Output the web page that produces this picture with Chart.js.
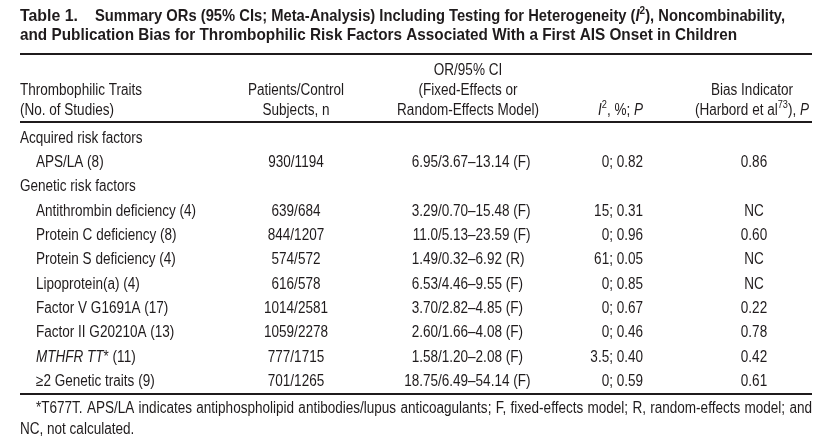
<!DOCTYPE html>
<html>
<head>
<meta charset="utf-8">
<script src="https://cdn.jsdelivr.net/npm/chart.js@4.4.1/dist/chart.umd.min.js"></script>
<style>
  html, body { margin: 0; padding: 0; background: #fff; }
  #table_chart { display: block; }
</style>
</head>
<body>
<canvas id="table_chart" width="827" height="443"></canvas>
<script>
// table text ( _x_ = italic, ^x^ = superscript )
const tableLabel = 'Table 1.';
const titleLines = [
  'Summary ORs (95% CIs; Meta-Analysis) Including Testing for Heterogeneity (_I_^2^), Noncombinability,',
  'and Publication Bias for Thrombophilic Risk Factors Associated With a First AIS Onset in Children'
];
const headers = [
  ['Thrombophilic Traits', '(No. of Studies)'],
  ['Patients/Control', 'Subjects, n'],
  ['OR/95% CI', '(Fixed-Effects or', 'Random-Effects Model)'],
  ['_I_^2^, %; _P_'],
  ['Bias Indicator', '(Harbord et al^73^), _P_']
];
const groups = ['Acquired risk factors', 'Genetic risk factors'];
const traitGroup = [0, 1, 1, 1, 1, 1, 1, 1, 1];
const traits = [
  'APS/LA (8)',
  'Antithrombin deficiency (4)',
  'Protein C deficiency (8)',
  'Protein S deficiency (4)',
  'Lipoprotein(a) (4)',
  'Factor V G1691A (17)',
  'Factor II G20210A (13)',
  '_MTHFR TT_* (11)',
  '\u22652 Genetic traits (9)'
];
const subjects = ['930/1194', '639/684', '844/1207', '574/572', '616/578', '1014/2581', '1059/2278', '777/1715', '701/1265'];
const orCI = [
  '6.95/3.67\u201313.14 (F)',
  '3.29/0.70\u201315.48 (F)',
  '11.0/5.13\u201323.59 (F)',
  '1.49/0.32\u20136.92 (R)',
  '6.53/4.46\u20139.55 (F)',
  '3.70/2.82\u20134.85 (F)',
  '2.60/1.66\u20134.08 (F)',
  '1.58/1.20\u20132.08 (F)',
  '18.75/6.49\u201354.14 (F)'
];
const heterogeneity = ['0; 0.82', '15; 0.31', '0; 0.96', '61; 0.05', '0; 0.85', '0; 0.67', '0; 0.46', '3.5; 0.40', '0; 0.59'];
const biasP = ['0.86', 'NC', '0.60', 'NC', 'NC', '0.22', '0.78', '0.42', '0.61'];
const footnote = [
  '*T677T. APS/LA indicates antiphospholipid antibodies/lupus anticoagulants; F, fixed-effects model; R, random-effects model; and',
  'NC, not calculated.'
];

// layout / style
const FAMILY = '"Liberation Sans", Arial, sans-serif';
const INK = '#1f1b1c';
const BODY = 16;
const TITLE = 16.5;
const LEFT = 20, RIGHT = 812;
const COLS = [
  { x: 36, align: 'left', head: 'left', hx: 20 },
  { x: 296, align: 'center', head: 'center', hx: 296 },
  { x: 438, align: 'slash', head: 'center', hx: 468 },
  { x: 643, align: 'right', head: 'right', hx: 643 },
  { x: 754, align: 'center', head: 'center', hx: 752 }
];
// title pieces: [text, x, baseline, width in the reference]
const TITLE_SPANS = [
  [tableLabel, LEFT, 21, 58],
  [titleLines[0], 95, 21, 690],
  [titleLines[1], LEFT, 39.5, 717]
];

// rows: group header followed by its traits
const rows = [];
groups.forEach((g, gi) => {
  rows.push({ label: g, group: true });
  traits.forEach((t, i) => {
    if (traitGroup[i] === gi) rows.push({ label: t, cells: [subjects[i], orCI[i], heterogeneity[i], biasP[i]] });
  });
});

// condensed face: Liberation Sans squeezed horizontally
let squeeze = { body: 1, title: 1 };

function parseRich(s) {
  return s.split(/(\^[^^]*\^|_[^_]*_)/).filter(Boolean).map((p) => {
    if (p[0] === '^') return { t: p.slice(1, -1), sup: true };
    if (p[0] === '_') return { t: p.slice(1, -1), it: true };
    return { t: p };
  });
}

function segFont(seg, size, bold) {
  return (seg.it ? 'italic ' : '') + (bold ? 'bold ' : '') + (seg.sup ? size * 0.68 : size) + 'px ' + FAMILY;
}

function richWidth(ctx, segs, size, bold, sx) {
  return segs.reduce((w, seg) => { ctx.font = segFont(seg, size, bold); return w + ctx.measureText(seg.t).width * sx; }, 0);
}

function put(ctx, s, x, y, sx) {
  ctx.save();
  ctx.translate(x, y);
  ctx.scale(sx, 1);
  ctx.fillText(s, 0, 0);
  ctx.restore();
}

function drawRich(ctx, text, x, y, align, size, bold) {
  const sx = bold ? squeeze.title : squeeze.body;
  const segs = parseRich(text);
  const w = richWidth(ctx, segs, size, bold, sx);
  let cx = x;
  if (align === 'center') cx = x - w / 2;
  else if (align === 'right') cx = x - w;
  else if (align === 'slash') { ctx.font = size + 'px ' + FAMILY; cx = x - ctx.measureText(text.split('/')[0]).width * sx; }
  ctx.textAlign = 'left';
  ctx.textBaseline = 'alphabetic';
  segs.forEach((seg) => {
    ctx.font = segFont(seg, size, bold);
    put(ctx, seg.t, cx, seg.sup ? y - size * 0.4 : y, sx);
    cx += ctx.measureText(seg.t).width * sx;
  });
}

function drawJustified(ctx, text, x0, x1, y, size) {
  const sx = squeeze.body;
  ctx.font = size + 'px ' + FAMILY;
  const words = text.split(' ');
  const total = words.reduce((s, w) => s + ctx.measureText(w).width * sx, 0);
  const gap = (x1 - x0 - total) / (words.length - 1);
  let cx = x0;
  words.forEach((w) => { put(ctx, w, cx, y, sx); cx += ctx.measureText(w).width * sx + gap; });
}

function rule(ctx, y, width) {
  ctx.beginPath();
  ctx.lineWidth = width;
  ctx.strokeStyle = INK;
  ctx.moveTo(LEFT, y);
  ctx.lineTo(RIGHT, y);
  ctx.stroke();
}

const tablePlugin = {
  id: 'tableText',
  afterDatasetsDraw(chart) {
    const ctx = chart.ctx;
    const area = chart.chartArea;
    ctx.save();
    ctx.fillStyle = INK;

    // fit the squeeze to the reference's text widths
    squeeze = { body: 1, title: 1 };
    squeeze.body = 122 / richWidth(ctx, parseRich(headers[0][0]), BODY, false, 1);

    // title, each piece fitted to its own width
    TITLE_SPANS.forEach(([text, x, y, w]) => {
      squeeze.title = 1;
      squeeze.title = w / richWidth(ctx, parseRich(text), TITLE, true, 1);
      drawRich(ctx, text, x, y, 'left', TITLE, true);
    });
    rule(ctx, 54, 2);

    // column headers, bottom aligned
    headers.forEach((lines, ci) => {
      lines.forEach((line, li) => {
        const y = area.top - 7.5 - (lines.length - 1 - li) * 20;
        drawRich(ctx, line, COLS[ci].hx, y, COLS[ci].head, BODY, false);
      });
    });
    rule(ctx, area.top, 2);

    // cells, positioned by the chart's own scales
    chart.data.datasets.forEach((ds, di) => {
      const meta = chart.getDatasetMeta(di);
      meta.data.forEach((pt, j) => {
        const raw = ds.data[j];
        drawRich(ctx, raw.text, pt.x, pt.y, raw.align, BODY, false);
      });
    });
    rule(ctx, area.bottom, 2);

    // footnote
    drawJustified(ctx, footnote[0], 36, RIGHT, 412.5, BODY);
    drawRich(ctx, footnote[1], LEFT, 433.5, 'left', BODY, false);
    ctx.restore();
  }
};

const datasets = COLS.map((col, ci) => ({
  label: 'col' + ci,
  pointRadius: 0,
  showLine: false,
  data: rows.flatMap((r, i) => {
    if (ci === 0) return [{ x: r.group ? LEFT : col.x, y: i, text: r.label, align: 'left' }];
    if (r.group) return [];
    return [{ x: col.x, y: i, text: r.cells[ci - 1], align: col.align }];
  })
}));

new Chart(document.getElementById('table_chart'), {
  type: 'scatter',
  data: { datasets },
  options: {
    responsive: false,
    animation: false,
    events: [],
    layout: { padding: { top: 122, bottom: 443 - 394, left: 0, right: 0 } },
    plugins: { legend: { display: false }, tooltip: { enabled: false } },
    scales: {
      x: { type: 'linear', min: 0, max: 827, display: false },
      y: { type: 'linear', min: -0.85, max: 10.33, reverse: true, display: false }
    }
  },
  plugins: [tablePlugin]
});
</script>
</body>
</html>
